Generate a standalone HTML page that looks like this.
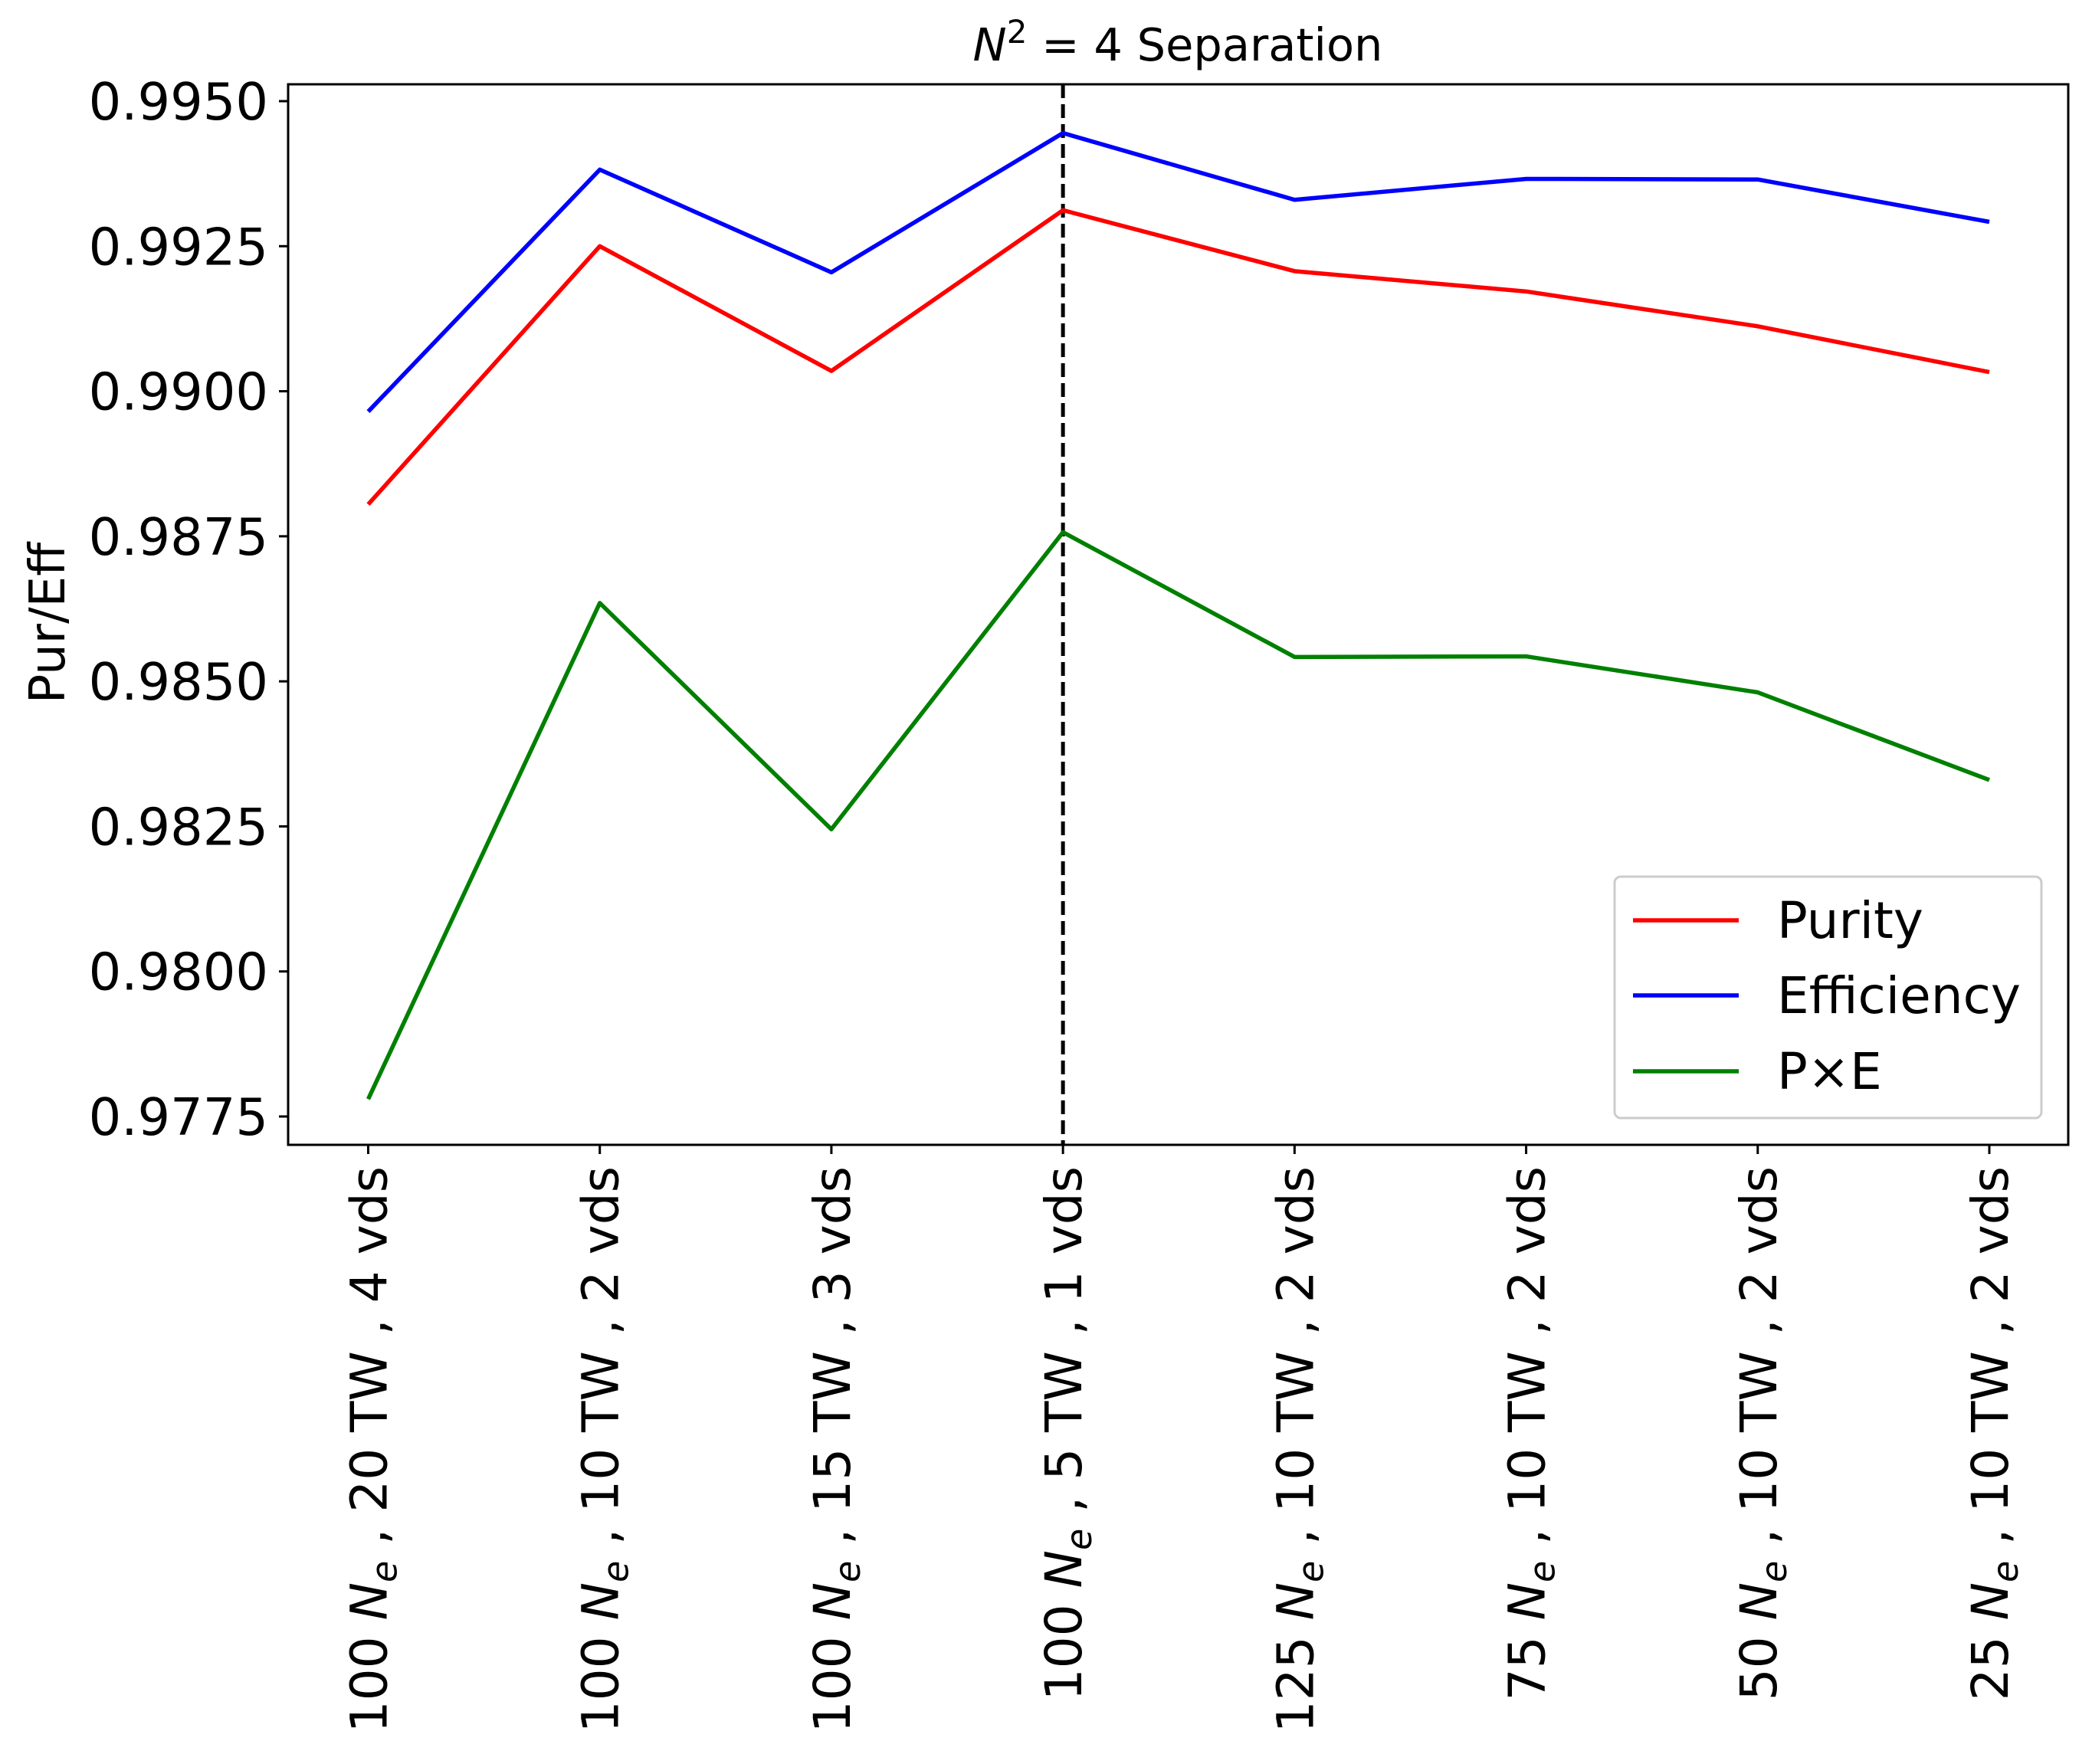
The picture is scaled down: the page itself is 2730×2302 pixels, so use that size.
<!DOCTYPE html>
<html><head><meta charset="utf-8"><style>
body{margin:0;background:#fff}
svg{display:block;font-family:"DejaVu Sans","Liberation Sans",sans-serif}
</style></head><body>
<svg id="chart" width="2730" height="2302" viewBox="0 0 2730 2302" xmlns="http://www.w3.org/2000/svg">
<rect width="2730" height="2302" fill="#fff"/>
<text x="1537" y="79" font-size="59" text-anchor="middle"><tspan font-style="italic">N</tspan><tspan dy="-23" font-size="42">2</tspan><tspan dy="23"> = 4 Separation</tspan></text>
<text transform="translate(84,813) rotate(-90)" font-size="64" text-anchor="middle">Pur/Eff</text>
<g id="plot"></g>
<rect x="376" y="110" width="2323" height="1384" fill="none" stroke="#000" stroke-width="3"/>
<g>
<rect x="2107" y="1144" width="557" height="315" rx="8" fill="#fff" fill-opacity="0.8" stroke="#ccc" stroke-width="3"/>
<line x1="2131" x2="2269" y1="1201" y2="1201" stroke="#ff0000" stroke-width="5.5"/>
<text x="2319" y="1224" font-size="66">Purity</text>
<line x1="2131" x2="2269" y1="1299" y2="1299" stroke="#0000ff" stroke-width="5.5"/>
<text x="2319" y="1322" font-size="66">Efficiency</text>
<line x1="2131" x2="2269" y1="1398" y2="1398" stroke="#008000" stroke-width="5.5"/>
<text x="2319" y="1421" font-size="66">P×E</text>
</g>
</svg>
<script>
const nVals=["100","100","100","100","125","75","50","25"];
const twVals=["20","10","15","5","10","10","10","10"];
const vdsVals=["4","2","3","1","2","2","2","2"];
const purity=[0.98805,0.99250,0.99035,0.99312,0.99207,0.99172,0.99112,0.99033];
const efficiency=[0.98965,0.99382,0.99205,0.99445,0.99330,0.99366,0.99365,0.99292];
const pxe=[0.97780,0.98635,0.98245,0.98757,0.98542,0.98543,0.98481,0.98330];
const yTicks=[0.9775,0.9800,0.9825,0.9850,0.9875,0.9900,0.9925,0.9950];
const yTickLabels=["0.9775","0.9800","0.9825","0.9850","0.9875","0.9900","0.9925","0.9950"];
const markerIndex=3;

const NS="http://www.w3.org/2000/svg";
const g=document.getElementById('plot');
const xOf=i=>480.5+i*(2596-480.5)/7;
const yOf=v=>1457+(v-0.9775)*(132-1457)/0.0175;
function mk(t,a){const e=document.createElementNS(NS,t);for(const k in a)e.setAttribute(k,a[k]);g.appendChild(e);return e;}

yTicks.forEach((v,i)=>{
  const y=yOf(v);
  const l=mk('line',{x1:364,x2:376,y1:y,y2:y,stroke:'#000','stroke-width':3});
  
  
  const t=mk('text',{x:350,y:y+24,'font-size':67,'text-anchor':'end'});
  t.textContent=yTickLabels[i];
  
  
});
nVals.forEach((n,i)=>{
  const x=xOf(i);
  const l=mk('line',{x1:x,x2:x,y1:1494,y2:1506,stroke:'#000','stroke-width':3});
  
  
  const t=mk('text',{transform:`translate(${x+24},1522) rotate(-90)`,'font-size':66,'text-anchor':'end'});
  
  
  t.innerHTML=`${n} <tspan font-style="italic">N</tspan><tspan font-style="italic" font-size="46" dy="13">e</tspan><tspan dy="-13"> , ${twVals[i]} TW , ${vdsVals[i]} vds</tspan>`;
});
const vx=xOf(markerIndex);
const vl=mk('line',{x1:vx,x2:vx,y1:110,y2:1494,stroke:'#000','stroke-width':5,'stroke-dasharray':'18 8'});



function series(arr,color,name){
  const p=mk('polyline',{points:arr.map((v,i)=>xOf(i)+','+yOf(v)).join(' '),fill:'none',stroke:color,'stroke-width':5.5,'stroke-linejoin':'round'});
  
  
}
series(purity,'#ff0000','purity-line');
series(efficiency,'#0000ff','efficiency-line');
series(pxe,'#008000','pxe-line');
</script>
</body></html>
